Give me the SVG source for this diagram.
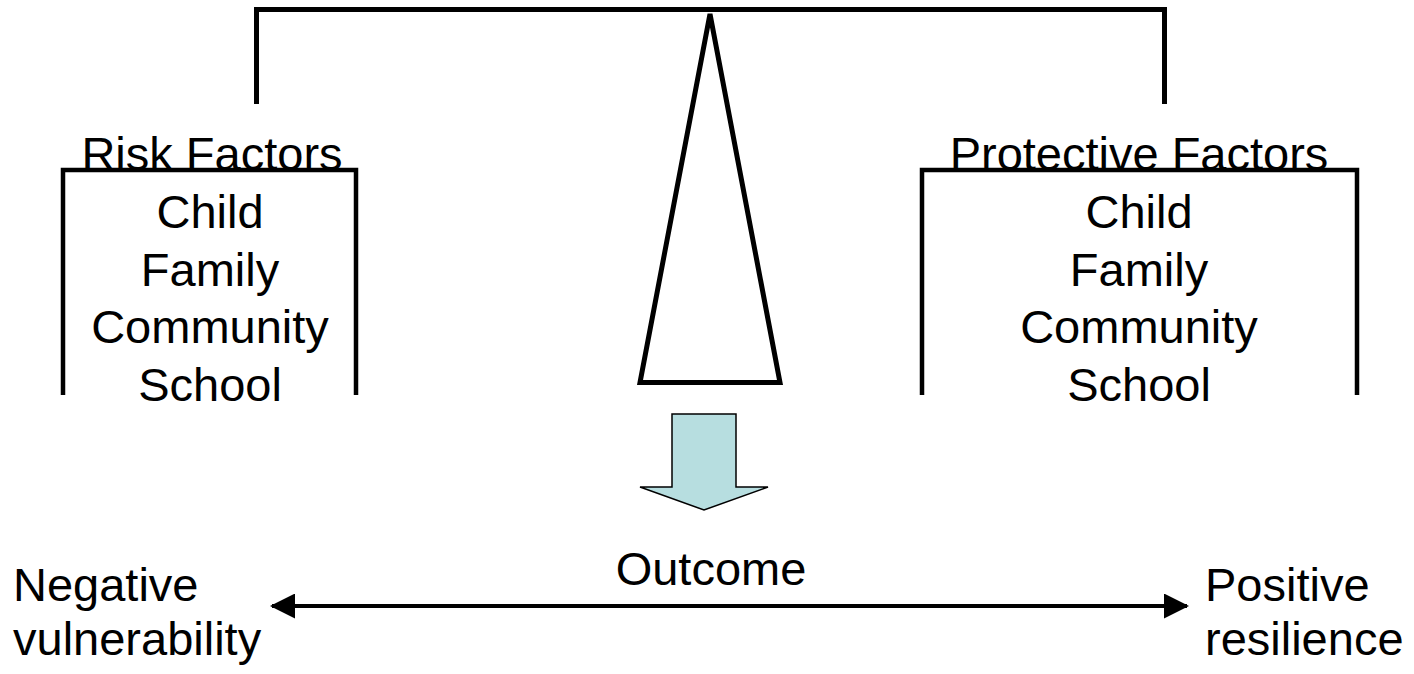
<svg xmlns="http://www.w3.org/2000/svg" width="1414" height="674" viewBox="0 0 1414 674">
  <style>
    .txt { font-family: "Liberation Sans", Arial, sans-serif; font-size: 47px; fill: #000; }
    .mid { text-anchor: middle; }
    .heavy { fill: none; stroke: #000; stroke-width: 5; }
    .box { fill: none; stroke: #000; stroke-width: 4.5; }
    .axis { fill: none; stroke: #000; stroke-width: 4; }
  </style>
  <defs>
    <marker id="head" viewBox="0 0 25 25" refX="23" refY="12.5" markerWidth="25" markerHeight="25" markerUnits="userSpaceOnUse" orient="auto-start-reverse">
      <path d="M0,0 L25,12.5 L0,25 Z" fill="#000"/>
    </marker>
  </defs>
  <rect width="1414" height="674" fill="#fff"/>

  <!-- balance beam and fulcrum -->
  <g id="scale">
    <path class="heavy" d="M256.5,104 V9.5 H1164.5 V104"/>
    <path class="heavy" stroke-linejoin="miter" d="M710,14 L780,382.5 L640,382.5 Z"/>
  </g>

  <!-- left pan: risk factors -->
  <g id="risk">
    <text class="txt mid" x="212" y="170">Risk Factors</text>
    <path class="box" d="M63,395 V170 H356 V395"/>
    <text class="txt mid" x="210" y="228">Child</text>
    <text class="txt mid" x="210" y="286">Family</text>
    <text class="txt mid" x="210" y="343">Community</text>
    <text class="txt mid" x="210" y="401">School</text>
  </g>

  <!-- right pan: protective factors -->
  <g id="protective">
    <text class="txt mid" x="1139" y="170">Protective Factors</text>
    <path class="box" d="M922,395 V170 H1357 V395"/>
    <text class="txt mid" x="1139" y="228">Child</text>
    <text class="txt mid" x="1139" y="286">Family</text>
    <text class="txt mid" x="1139" y="343">Community</text>
    <text class="txt mid" x="1139" y="401">School</text>
  </g>

  <!-- block arrow pointing to the outcome -->
  <g id="down-arrow">
    <path d="M672,414 H736 V487 H768 L704,510 L640,487 H672 Z" fill="#B7DEE0" stroke="#000" stroke-width="1.5" stroke-linejoin="miter"/>
  </g>

  <g id="outcome">
    <text class="txt mid" x="711" y="585">Outcome</text>
  </g>

  <g id="negative">
    <text class="txt" x="13" y="601">Negative</text>
    <text class="txt" x="13" y="655">vulnerability</text>
  </g>

  <g id="positive">
    <text class="txt" x="1205" y="601">Positive</text>
    <text class="txt" x="1205" y="655">resilience</text>
  </g>

  <!-- outcome continuum -->
  <g id="connectors">
    <line class="axis" x1="272" y1="606" x2="1187" y2="606" marker-start="url(#head)" marker-end="url(#head)"/>
  </g>
</svg>
